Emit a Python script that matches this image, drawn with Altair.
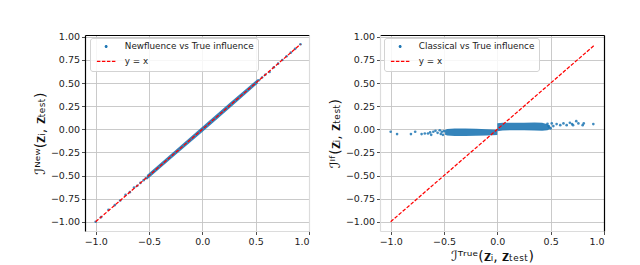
import altair as alt
import pandas as pd

BLUE = "#1f77b4"
RED = "#ff0000"

# ---------- left panel: Newfluence vs True influence ----------
new_label = "Newfluence vs True influence"
new_pts_x = [-1.0, -0.95, -0.88, -0.82, -0.77, -0.72, -0.68, -0.64, -0.61, -0.58, -0.55, -0.53,
             0.53, 0.56, 0.59, 0.63, 0.67, 0.71, 0.75, 0.79, 0.83, 0.87, 0.92]
new_pts_y = [-1.0, -0.95, -0.87, -0.82, -0.77, -0.71, -0.68, -0.63, -0.61, -0.58, -0.55, -0.53,
             0.53, 0.56, 0.59, 0.62, 0.67, 0.71, 0.75, 0.79, 0.83, 0.87, 0.92]
new_band_x = [-0.52, -0.25, 0.0, 0.25, 0.52]
new_band_lo = [-0.545, -0.275, -0.028, 0.222, 0.495]
new_band_hi = [-0.495, -0.225, 0.028, 0.278, 0.545]
new_band_seg = ["a", "a", "a", "a", "a"]
new_line_x = [-1.0, 0.92]
new_line_y = [-1.0, 0.92]

# ---------- right panel: Classical vs True influence ----------
if_label = "Classical vs True influence"
if_pts_x = [-1.0, -0.94, -0.81, -0.77, -0.71, -0.68, -0.65, -0.63, -0.62, -0.60, -0.58, -0.56,
            -0.54, -0.52, -0.53, -0.51, -0.50,
            0.47, 0.48, 0.49, 0.50, 0.51, 0.525, 0.556, 0.59, 0.62, 0.65, 0.68, 0.70, 0.71,
            0.74, 0.76, 0.80, 0.81, 0.90]
if_pts_y = [-0.027, -0.052, -0.052, -0.027, -0.052, -0.045, -0.045, -0.034, -0.06, -0.027,
            -0.016, -0.038, -0.01, -0.027, -0.05, -0.06, -0.02,
            0.06, 0.035, 0.02, 0.01, 0.064, 0.035, 0.056, 0.045, 0.064, 0.045, 0.071, 0.056,
            0.045, 0.088, 0.064, 0.045, 0.064, 0.056]
if_band_x = [-0.49, -0.47, -0.40, -0.30, -0.20, -0.10, 0.0,
             0.0, 0.05, 0.15, 0.25, 0.35, 0.42, 0.47, 0.49]
if_band_lo = [-0.058, -0.066, -0.072, -0.072, -0.070, -0.066, -0.062,
              -0.020, -0.012, -0.010, -0.010, -0.014, -0.015, -0.010, 0.000]
if_band_hi = [-0.008, 0.004, 0.008, 0.008, 0.005, 0.000, -0.004,
              0.066, 0.070, 0.070, 0.070, 0.074, 0.070, 0.056, 0.040]
if_band_seg = ["neg"] * 7 + ["pos"] * 8
if_line_x = [-1.0, 0.91]
if_line_y = [-1.0, 0.91]

x_ticks = [-1.0, -0.5, 0.0, 0.5, 1.0]
y_ticks = [-1.0, -0.75, -0.5, -0.25, 0.0, 0.25, 0.5, 0.75, 1.0]

FONT = "DejaVu Sans"
DARK = "#000000"
LIGHT = "#dcdcdc"

CIRCLE_PATH = "M6.17,0A1,1,0,1,1,4.17,0A1,1,0,1,1,6.17,0Z"
DASH_PATH = ("M-1,-0.45H1.33V0.45H-1Z M2.33,-0.45H4.67V0.45H2.33Z "
             "M5.67,-0.45H8V0.45H5.67Z M9,-0.45H11.33V0.45H9Z")


def make_legend(lx):
    return alt.Legend(
        title=None, orient="none", legendX=lx, legendY=3, padding=4, rowPadding=5,
        symbolSize=9, symbolStrokeWidth=0, labelOffset=22, labelFontSize=8.8,
        labelFont=FONT, labelColor="#222222", labelLimit=300,
        fillColor="rgba(255,255,255,0.85)", strokeColor="#d3d3d3", cornerRadius=2.5,
        symbolType={"expr": "datum.value === 'y = x' ? '%s' : '%s'" % (DASH_PATH, CIRCLE_PATH)},
        symbolOpacity=1,
    )


def panel(label, pts_x, pts_y, band_x, band_lo, band_hi, band_seg, line_x, line_y,
          ytitle, xtitle, left_c, top_c, right_c, bottom_c, lx, width):
    pts = pd.DataFrame({"x": pts_x, "y": pts_y, "series": label})
    band = pd.DataFrame({"x": band_x, "lo": band_lo, "hi": band_hi, "seg": band_seg})
    line = pd.DataFrame({"x": line_x, "y": line_y, "series": "y = x"})

    xs = alt.Scale(domain=[-1.1, 1.0], nice=False, zero=False)
    ys = alt.Scale(domain=[-1.1, 1.02], nice=False, zero=False)
    cs = alt.Scale(domain=[label, "y = x"], range=[BLUE, RED])
    leg = make_legend(lx)

    bottom_kw = dict(orient="bottom", values=x_ticks, format=".1f", grid=True,
                     domainColor=bottom_c, domainWidth=1.2)
    bottom_kw["title"] = xtitle if xtitle else None
    bottom_axis = alt.Axis(**bottom_kw)
    left_axis = alt.Axis(orient="left", values=y_ticks, format=".2f", grid=True,
                         domainColor=left_c, domainWidth=1.2, title=ytitle)
    top_axis = alt.Axis(orient="top", labels=False, ticks=False, grid=False,
                        domainColor=top_c, domainWidth=1.2, title=None)
    right_axis = alt.Axis(orient="right", labels=False, ticks=False, grid=False,
                          domainColor=right_c, domainWidth=1.2, title=None)

    band_layer = alt.Chart(band).mark_area(color=BLUE, opacity=0.9).encode(
        x=alt.X("x:Q", scale=xs, axis=bottom_axis),
        y=alt.Y("lo:Q", scale=ys, axis=left_axis),
        y2="hi:Q",
        detail="seg:N",
    )
    pts_layer = alt.Chart(pts).mark_circle(size=7, opacity=0.85).encode(
        x=alt.X("x:Q", scale=xs, axis=top_axis),
        y=alt.Y("y:Q", scale=ys, axis=right_axis),
        color=alt.Color("series:N", scale=cs, legend=leg),
    )
    line_layer = alt.Chart(line).mark_line(strokeDash=[3.7, 1.6], strokeWidth=1.25).encode(
        x=alt.X("x:Q", scale=xs, axis=None),
        y=alt.Y("y:Q", scale=ys, axis=None),
        color=alt.Color("series:N", scale=cs, legend=leg),
    )
    return alt.layer(band_layer, pts_layer, line_layer).resolve_axis(
        x="independent", y="independent"
    ).properties(width=width, height=196)


left = panel(new_label, new_pts_x, new_pts_y, new_band_x, new_band_lo, new_band_hi, new_band_seg,
             new_line_x, new_line_y, "ℐᴺᵉʷ(𝐳ᵢ, 𝐳ₜₑₛₜ)", None,
             DARK, DARK, LIGHT, LIGHT, 5, 224)
right = panel(if_label, if_pts_x, if_pts_y, if_band_x, if_band_lo, if_band_hi, if_band_seg,
              if_line_x, if_line_y, "ℐᴵᶠ(𝐳ᵢ, 𝐳ₜₑₛₜ)", "ℐᵀʳᵘᵉ(𝐳ᵢ, 𝐳ₜₑₛₜ)",
              LIGHT, DARK, DARK, LIGHT, 4, 224)

chart = alt.hconcat(left, right, spacing=17).resolve_scale(
    color="independent"
).resolve_legend(color="independent").properties(
    padding={"left": 24, "top": 23, "right": 5, "bottom": 2}
).configure(font=FONT).configure_view(stroke="transparent").configure_axis(
    labelFont=FONT, labelFontSize=9.5, labelColor="#222222", labelPadding=2,
    tickSize=3.5, tickColor="#222222", tickWidth=0.8,
    gridColor="#c4c4c4", gridWidth=0.9,
    titleFont=FONT, titleFontSize=14, titleFontWeight="normal", titleColor="#111111",
    titlePadding=3,
)

chart.save("out.html", embed_options={"renderer": "svg", "actions": False})
